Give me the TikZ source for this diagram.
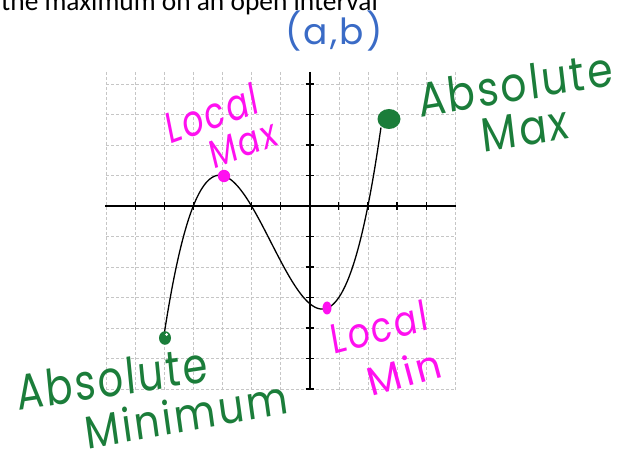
\documentclass[tikz,border=0pt]{standalone}
\usepackage{fontspec}
\setmainfont{Carlito}
\newfontfamily\hand[LetterSpace=6]{Poppins}
\definecolor{penblue}{HTML}{3A6BC6}
\definecolor{pengreen}{HTML}{1B7D3A}
\definecolor{penmag}{HTML}{FF10F0}
\tikzset{
  gridline/.style={gray!45, densely dashed, line width=0.5pt},
  axisline/.style={black, line width=1.6pt},
  tickline/.style={black, line width=1.2pt},
  curveline/.style={black, line width=1.3pt},
  hand/.style={inner sep=0pt, transform shape},
}
\newcommand{\hs}[1]{\hand\fontsize{#1}{#1}\selectfont}
\begin{document}
\begin{tikzpicture}[x=1pt,y=-1pt]
\useasboundingbox (0,0) rectangle (624,454);
% title (cropped)
\node[anchor=base west, inner sep=0pt, font=\fontsize{27.4}{27.4}\selectfont] (title) at (1,11) {the maximum on an open interval};
% grid
\foreach \i in {0,...,12} {
  \draw[gridline] ({106+29.1*\i},72) -- ({106+29.1*\i},390);
}
\foreach \j in {-4,...,6} {
  \draw[gridline] (106,{206+30.5*\j}) -- (455,{206+30.5*\j});
}
% axes
\draw[axisline] (105,206) -- (456,206);
\draw[axisline] (309.7,72) -- (309.7,390);
\foreach \i in {1,...,11} {
  \draw[tickline] ({106+29.1*\i},202) -- ({106+29.1*\i},210);
}
\foreach \j in {-4,...,6} {
  \draw[tickline] (305.5,{206+30.5*\j}) -- (313.5,{206+30.5*\j});
}
% curve
\draw[curveline] plot[domain=-5:2.45, samples=120, smooth]
  ({309.7+29.1*\x},{206-30.5*0.2*(\x+4)*(\x+2)*(\x-2)});
% dots
\fill[pengreen] (165,338) ellipse [x radius=6, y radius=6.8];
\fill[white] (166.5,334.5) circle (1.5);
\fill[penmag] (224,176) circle (6.2);
\fill[penmag] (327,308) ellipse [x radius=4.5, y radius=6.5];
\fill[pengreen] (389,119) ellipse [x radius=11.5, y radius=10];
% labels
\node[hand, text=penblue, font=\hs{36}] (ab) at (334,31) {(a,b)};
\node[hand, text=penmag, font=\hs{44}, xscale=0.75, rotate=15] (lmax1) at (212,113) {Local};
\node[hand, text=penmag, font=\hs{40}, xscale=0.8, rotate=17] (lmax2) at (243,144) {Max};
\node[hand, text=pengreen, font=\hs{48}, xscale=0.85, rotate=8] (amax1) at (515,84) {Absolute};
\node[hand, text=pengreen, font=\hs{48}, xscale=0.85, rotate=8] (amax2) at (525,129) {Max};
\node[hand, text=pengreen, font=\hs{50}, xscale=0.8, rotate=7] (amin1) at (112,378) {Absolute};
\node[hand, text=pengreen, font=\hs{46}, xscale=0.88, rotate=9] (amin2) at (186,414) {Minimum};
\node[hand, text=penmag, font=\hs{42}, xscale=0.82, rotate=12] (lmin1) at (379,327) {Local};
\node[hand, text=penmag, font=\hs{40}, rotate=15] (lmin2) at (404,372) {Min};
\end{tikzpicture}
\end{document}
